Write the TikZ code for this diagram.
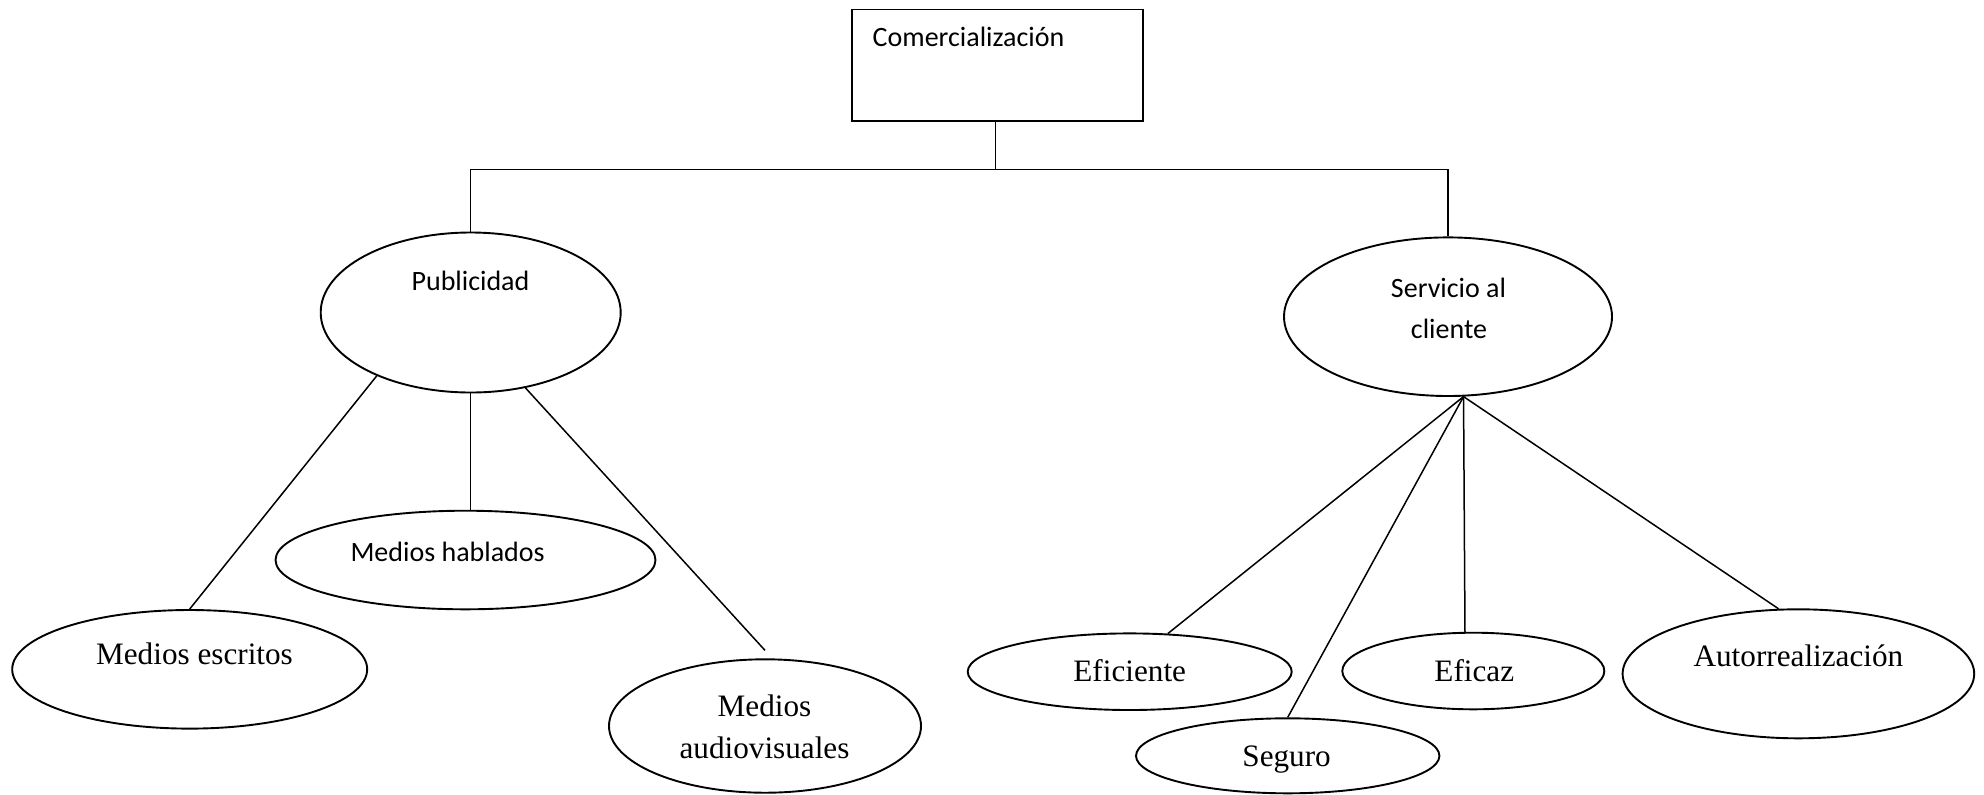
\documentclass[tikz,border=0pt]{standalone}
\usepackage{fontspec}
\usetikzlibrary{shapes.geometric}
\newfontfamily\calfont{Carlito}
\newfontfamily\tnrfont{Liberation Serif}
\begin{document}
\begin{tikzpicture}[x=0.5pt,y=-0.5pt,
  shapeline/.style={draw=black,line width=0.95pt},
  oval/.style={shapeline,ellipse,inner sep=0pt},
  wire/.style={draw=black,line width=0.75pt},
  sanstext/.style={anchor=base,inner sep=0pt,font=\calfont\fontsize{14}{16}\selectfont},
  serftext/.style={anchor=base,inner sep=0pt,font=\tnrfont\fontsize{15.6}{18}\selectfont}]
\useasboundingbox (0,0) rectangle (1984,794);

% top box
\node[shapeline,rectangle,inner sep=0pt,minimum width=145.5pt,minimum height=55.7pt] (box) at (997.2,65.2) {};
\node[sanstext,anchor=base west] (tbox) at (872.3,46.7) {Comercialización};

% second level
\node[oval,minimum width=150pt,minimum height=80pt] (pub) at (470.7,312.5) {};
\node[sanstext] (tpub) at (470.5,290.7) {Publicidad};
\node[oval,minimum width=164pt,minimum height=79.3pt] (srv) at (1448,316.7) {};
\node[sanstext] (tsrv1) at (1448.5,297.3) {Servicio al};
\node[sanstext] (tsrv2) at (1449,338.3) {cliente};

% media
\node[oval,minimum width=190pt,minimum height=49.3pt] (hab) at (465.5,560) {};
\node[sanstext] (thab) at (447.6,561) {Medios hablados};
\node[oval,minimum width=177.5pt,minimum height=59.3pt] (esc) at (189.7,669.3) {};
\node[serftext] (tesc) at (194.5,664) {Medios escritos};
\node[oval,minimum width=156pt,minimum height=66.7pt] (aud) at (765,726) {};
\node[serftext] (taud1) at (764.5,716) {Medios};
\node[serftext] (taud2) at (764.5,758.3) {audiovisuales};

% service qualities
\node[oval,minimum width=162pt,minimum height=38.3pt] (eff) at (1129.7,671.7) {};
\node[serftext] (teff) at (1129.7,681.7) {Eficiente};
\node[oval,minimum width=151.7pt,minimum height=37.5pt] (seg) at (1287.7,755.8) {};
\node[serftext] (tseg) at (1286.6,766.7) {Seguro};
\node[oval,minimum width=131pt,minimum height=38.3pt] (eca) at (1473.3,671) {};
\node[serftext] (teca) at (1474.3,681.7) {Eficaz};
\node[oval,minimum width=175.8pt,minimum height=64.5pt] (aut) at (1798.4,673.8) {};
\node[serftext] (taut) at (1798.4,666) {Autorrealización};

% tree connectors
\coordinate (bus) at (0,169.3);
\coordinate (drop) at ([xshift=-0.75pt]box.south);
\draw[wire] (drop) -- (drop |- bus);
\draw[wire] (pub.north) -- (pub.north |- bus) -- (srv.north |- bus) -- (srv.north);

\draw[wire] (pub.214) -- (esc.north);
\draw[wire] (pub.south) -- (pub.south |- hab.north);
\draw[wire] (pub.306) -- ([yshift=4pt]aud.north);

\coordinate (fan) at (srv.281);
\draw[wire] (fan) -- (eff.45);
\draw[wire] (fan) -- (seg.north);
\draw[wire] (fan) -- (eca.102);
\draw[wire] (fan) -- (aut.107);
\end{tikzpicture}
\end{document}
